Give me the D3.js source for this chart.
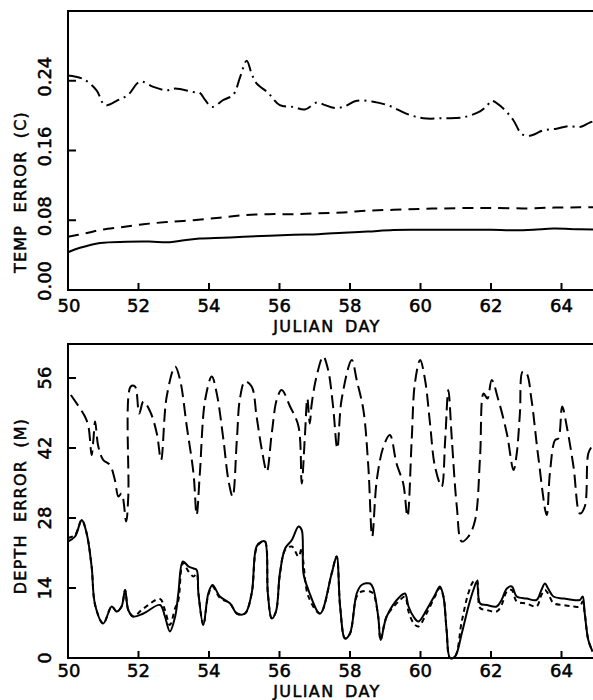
<!DOCTYPE html>
<html><head><meta charset="utf-8">
<script src="https://cdn.jsdelivr.net/npm/d3@7"></script>
<style>body{margin:0;background:#fff}svg{display:block}text{font-family:"DejaVu Sans",sans-serif;fill:#000;stroke:#000;stroke-width:0.5px}</style>
</head><body>
<svg id="c" width="593" height="700"></svg>
<script>
// ---------- DATA ----------
const xTicks = [50, 52, 54, 56, 58, 60, 62, 64];
const tempTicks = [0.00, 0.08, 0.16, 0.24];
const depthTicks = [0, 14, 28, 42, 56];

// Top panel: dash-dot series
const tempA_days = [50.0,50.43,50.81,51.05,51.43,51.71,52.04,52.42,52.8,53.04,53.56,53.74,53.89,54.08,54.41,54.69,54.88,55.07,55.21,55.35,55.68,56.01,56.39,56.72,57.06,57.3,57.53,57.81,58.19,58.66,59.13,59.61,60.08,60.65,61.21,61.69,61.88,62.02,62.3,62.63,62.87,63.1,63.48,63.86,64.19,64.52,64.8,65.0];
const tempA_vals = [0.246,0.242,0.229,0.212,0.218,0.224,0.239,0.233,0.229,0.231,0.227,0.226,0.218,0.210,0.218,0.224,0.244,0.263,0.248,0.237,0.226,0.212,0.210,0.207,0.215,0.212,0.209,0.210,0.217,0.216,0.211,0.202,0.197,0.197,0.198,0.205,0.211,0.217,0.210,0.195,0.179,0.177,0.183,0.185,0.188,0.187,0.192,0.195];
// Top panel: dashed series
const tempB_days = [50,50.5,50.91,51.5,52.14,52.8,53.56,54.3,54.98,55.7,56.4,57.1,57.81,58.5,59.23,60,60.65,61.4,62.07,63.01,63.8,64.52,65];
const tempB_vals = [0.061,0.065,0.0688,0.072,0.0754,0.078,0.080,0.083,0.0858,0.087,0.087,0.088,0.089,0.091,0.092,0.093,0.0936,0.094,0.094,0.0936,0.0945,0.0948,0.095];
// Top panel: solid series
const tempC_days = [50,50.34,50.91,51.66,52.3,52.89,53.3,53.74,54.4,54.98,56.4,57.1,57.81,58.5,59.23,60.2,61.12,62.0,62.63,63.2,63.77,64.52,65];
const tempC_vals = [0.0433,0.0484,0.054,0.0553,0.0555,0.0549,0.057,0.059,0.060,0.061,0.0634,0.064,0.0657,0.067,0.0688,0.069,0.0692,0.069,0.0684,0.069,0.0704,0.0696,0.0695];

// Bottom panel: upper dashed series
const depthA_days = [50.08,50.15,50.48,50.58,50.67,50.72,50.77,50.86,51.0,51.19,51.33,51.43,51.52,51.65,51.71,51.78,51.9,52.02,52.14,52.33,52.52,52.64,52.8,53.04,53.18,53.37,53.56,53.65,53.74,53.89,54.08,54.22,54.41,54.55,54.67,54.79,54.88,55.02,55.21,55.35,55.5,55.64,55.78,55.92,56.06,56.3,56.54,56.63,56.72,56.79,56.86,56.91,57.05,57.24,57.38,57.52,57.64,57.76,58.05,58.19,58.38,58.52,58.63,58.76,58.95,59.13,59.32,59.51,59.63,59.75,59.84,59.99,60.13,60.27,60.41,60.6,60.7,60.79,60.89,61.03,61.17,61.36,61.55,61.69,61.79,61.9,62.02,62.21,62.45,62.64,62.73,62.82,62.9,63.01,63.15,63.34,63.58,63.67,63.82,63.91,64.02,64.15,64.34,64.52,64.66,64.76,64.86];
const depthA_vals = [52.6,51.9,48.3,46.3,40.6,43.6,47.3,42.3,39.6,38.6,35.6,32.3,32.9,27.3,32.3,54.3,54.3,48.9,51.3,49.3,44.9,39.6,52.3,58.3,55.6,46.3,36.9,28.6,36.9,51.6,56.3,52.9,43.6,35.6,32.3,43.6,52.0,55.3,54.3,48.3,41.6,37.3,44.9,51.6,53.6,50.3,46.3,34.9,44.3,51.9,46.9,50.6,56.3,60.3,57.6,50.3,41.9,51.6,59.6,55.6,49.6,38.3,24.3,35.6,42.3,44.6,38.9,34.9,28.3,43.6,54.9,59.6,55.6,46.9,38.3,34.3,43.6,53.6,43.6,30.3,23.3,24.3,27.6,40.3,52.9,51.9,55.6,51.6,44.9,37.6,40.9,48.9,57.3,56.9,51.6,40.3,28.6,36.9,43.6,43.9,50.3,46.3,38.3,28.9,30.3,40.9,42.3];
// Bottom panel: lower solid and lower dashed series (shared days)
const depthC_days = [50.0,50.2,50.39,50.53,50.67,50.77,51.0,51.24,51.38,51.52,51.62,51.71,51.85,52.14,52.61,52.75,52.89,53.04,53.13,53.26,53.42,53.56,53.65,53.7,53.84,53.98,54.1,54.31,54.6,54.79,55.02,55.21,55.35,55.5,55.59,55.67,55.78,55.9,56.01,56.16,56.35,56.54,56.63,56.68,56.82,57.15,57.48,57.62,57.72,57.86,58.0,58.19,58.33,58.57,58.66,58.8,58.87,59.04,59.42,59.56,59.66,59.8,59.94,60.17,60.41,60.55,60.65,60.74,60.84,60.98,61.17,61.36,61.5,61.6,61.69,61.88,62.16,62.3,62.45,62.59,62.73,63.01,63.29,63.43,63.53,63.62,63.77,64.05,64.34,64.52,64.6,64.66,64.76,64.88];
const depthC_vals = [23.3,24.3,27.6,24.9,18.3,10.6,6.9,10.3,9.3,10.3,13.6,9.6,8.3,8.9,10.6,8.3,5.3,8.3,12.9,19.3,18.3,17.9,17.6,12.9,6.6,12.9,14.6,12.3,10.9,8.9,8.9,12.9,22.3,23.3,23.3,12.9,7.9,9.3,16.9,21.9,23.6,26.3,25.6,16.9,13.6,8.9,16.9,20.3,10.3,3.9,4.9,12.9,14.6,14.9,13.9,8.3,3.6,8.3,12.3,12.9,10.3,8.3,7.3,9.6,12.6,14.3,12.3,5.6,0,0.3,4.9,10.3,13.6,15.3,10.9,10.6,10.3,11.6,13.9,14.3,12.3,11.9,11.6,13.6,14.9,13.9,12.3,11.9,11.6,11.6,12.3,8.9,3.6,1.3];
const depthB_vals = [24.0,24.6,27.6,24.9,18.3,10.6,6.9,10.3,9.3,10.3,13.6,9.6,8.3,9.9,11.8,9.6,6.6,10.0,11.5,19.0,17.3,16.3,16.9,12.9,6.6,12.6,14.3,12.0,10.9,8.9,8.9,12.9,22.0,23.3,23.3,12.9,7.9,9.3,16.6,21.6,22.3,20.3,22.0,19.0,12.3,8.9,16.9,20.3,10.3,3.9,4.9,12.3,13.3,13.3,12.9,8.3,3.6,8.3,11.6,12.3,9.3,7.0,6.3,8.9,12.3,14.0,12.3,5.6,0,0.3,7.3,13.0,15.3,15.6,10.0,9.6,9.3,10.6,13.3,13.6,11.3,10.9,10.3,12.6,13.6,12.9,11.0,10.6,10.3,10.3,11.3,8.9,3.6,1.3];

// ---------- DRAW ----------
const svg = d3.select("#c");
const x = d3.scaleLinear().domain([50, 65]).range([68, 596.75]);
const yT = d3.scaleLinear().domain([0, 0.32]).range([290, 11]);
const yD = d3.scaleLinear().domain([0, 63]).range([658, 343]);

function panel(y, top, bottom, ticks, fmt, labOff, title, titleY, jdY, tickLabY) {
  const g = svg.append("g");
  g.append("line").attr("x1", x(50)).attr("x2", x(50)).attr("y1", top).attr("y2", bottom);
  g.append("line").attr("x1", x(50)).attr("x2", 593).attr("y1", top).attr("y2", top);
  g.append("line").attr("x1", x(50)).attr("x2", 593).attr("y1", bottom).attr("y2", bottom);
  g.selectAll("line").attr("stroke", "#000").attr("stroke-width", 2).attr("stroke-linecap", "square");
  g.selectAll(".xt").data(xTicks.slice(1)).join("line").attr("class", "xt")
    .attr("x1", d => x(d)).attr("x2", d => x(d)).attr("y1", bottom).attr("y2", bottom - 7)
    .attr("stroke", "#000").attr("stroke-width", 2);
  g.selectAll(".xl").data(xTicks).join("text").attr("class", "xl")
    .attr("x", d => x(d) + (d === 50 ? 1 : 0)).attr("y", tickLabY).attr("text-anchor", "middle")
    .attr("font-size", 18).text(d => d);
  g.selectAll(".yt").data(ticks.slice(1)).join("line").attr("class", "yt")
    .attr("x1", x(50)).attr("x2", x(50) + 8).attr("y1", d => y(d)).attr("y2", d => y(d))
    .attr("stroke", "#000").attr("stroke-width", 2);
  g.selectAll(".yl").data(ticks).join("text").attr("class", "yl")
    .attr("transform", d => `translate(51,${y(d) + labOff(d)}) rotate(-90)`)
    .attr("text-anchor", "middle").attr("font-size", 18).text(fmt);
  g.append("text").attr("transform", `translate(26,${titleY}) rotate(-90)`)
    .attr("text-anchor", "middle").attr("font-size", 16).attr("letter-spacing", 1.2)
    .attr("word-spacing", 6).text(title);
  g.append("text").attr("x", 327).attr("y", jdY).attr("text-anchor", "middle")
    .attr("font-size", 16).attr("letter-spacing", 1.4).attr("word-spacing", 4).text("JULIAN DAY");
}

panel(yT, 11, 290, tempTicks, d => d.toFixed(2), d => (d === 0 ? -9 : -4), "TEMP ERROR (C)", 192, 332, 312);
panel(yD, 344, 658, depthTicks, d => d, d => 0, "DEPTH ERROR  (M)", 506, 697, 677);

function series(days, vals, y, dash, curve) {
  const pts = days.map((d, i) => [d, vals[i]]);
  const line = d3.line().x(p => x(p[0])).y(p => y(p[1])).curve(curve);
  svg.append("path").attr("d", line(pts)).attr("fill", "none").attr("stroke", "#000")
    .attr("stroke-width", 2).attr("stroke-dasharray", dash).attr("stroke-linejoin", "round");
}
const smooth = d3.curveCatmullRom.alpha(0.5);
series(tempA_days, tempA_vals, yT, "14,5,2,5", smooth);
series(tempB_days, tempB_vals, yT, "11,7", smooth);
series(tempC_days, tempC_vals, yT, null, smooth);
series(depthA_days, depthA_vals, yD, "13,6", smooth);
series(depthC_days, depthB_vals, yD, "5,4", smooth);
series(depthC_days, depthC_vals, yD, null, smooth);
</script>
</body></html>
